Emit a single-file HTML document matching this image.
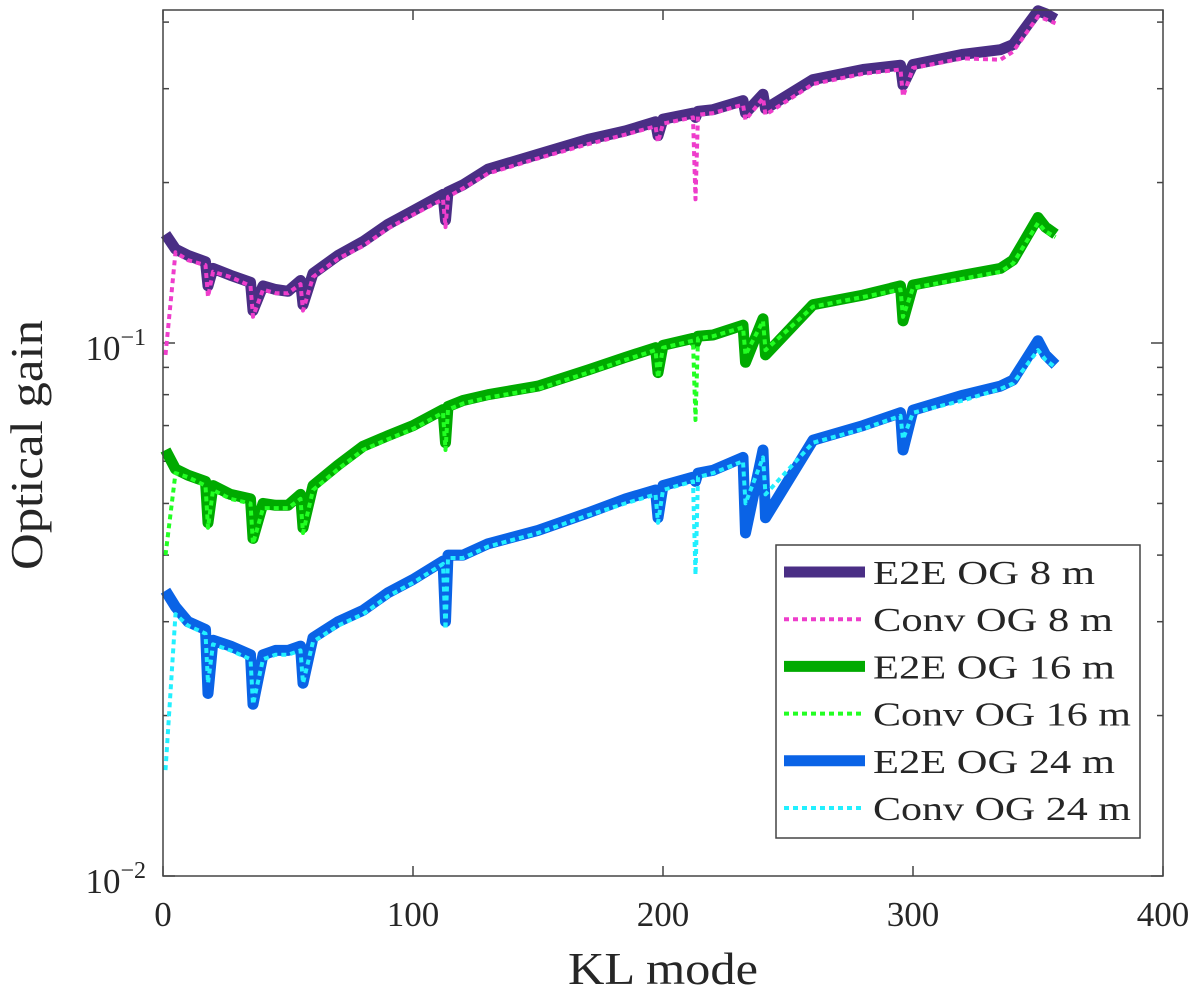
<!DOCTYPE html>
<html><head><meta charset="utf-8"><style>
html,body{margin:0;padding:0;background:#fff;}
svg text{font-family:"Liberation Serif",serif;fill:#262626;}
</style></head><body>
<svg id="chart" width="1200" height="990" xmlns="http://www.w3.org/2000/svg">
<g id="axes"></g>
<g id="series"></g>
<rect x="163" y="10" width="1000" height="866" fill="none" stroke="#444" stroke-width="1.5"/>
<text x="0" y="0" font-size="46" text-anchor="middle" textLength="250" lengthAdjust="spacingAndGlyphs" transform="translate(42,445) rotate(-90)">Optical gain</text>
<text x="663" y="984" font-size="46" text-anchor="middle" textLength="190" lengthAdjust="spacingAndGlyphs">KL mode</text>
<g id="legend"></g>
</svg>
<script>
const modes=[1,5,10,17,18,20,27,35,36,40,45,50,55,56,60,70,80,90,100,112,113,114,120,130,150,170,185,197,198,200,212,213,214,220,232,233,240,241,260,280,295,296,300,320,335,340,350,353,357];
const e2e8=[0.160,0.150,0.146,0.142,0.128,0.138,0.134,0.130,0.115,0.128,0.126,0.125,0.131,0.118,0.135,0.146,0.155,0.167,0.177,0.190,0.170,0.192,0.198,0.212,0.226,0.241,0.250,0.260,0.245,0.263,0.270,0.265,0.272,0.274,0.285,0.270,0.293,0.275,0.312,0.326,0.332,0.305,0.333,0.348,0.355,0.363,0.420,0.415,0.405];
const conv8=[0.095,0.148,0.143,0.140,0.122,0.136,0.133,0.128,0.112,0.126,0.124,0.124,0.129,0.115,0.133,0.144,0.152,0.164,0.174,0.186,0.165,0.188,0.195,0.208,0.222,0.236,0.246,0.255,0.238,0.258,0.265,0.186,0.268,0.270,0.280,0.262,0.288,0.268,0.306,0.320,0.326,0.290,0.328,0.342,0.340,0.352,0.410,0.405,0.398];
const e2e16=[0.063,0.058,0.0565,0.055,0.046,0.054,0.052,0.051,0.043,0.050,0.0496,0.0496,0.052,0.045,0.054,0.059,0.064,0.067,0.070,0.075,0.065,0.076,0.078,0.080,0.083,0.089,0.094,0.098,0.088,0.099,0.102,0.100,0.103,0.1035,0.108,0.092,0.111,0.095,0.118,0.123,0.128,0.110,0.1285,0.134,0.138,0.143,0.172,0.165,0.160];
const conv16=[0.040,0.057,0.056,0.054,0.045,0.053,0.051,0.050,0.042,0.049,0.049,0.049,0.051,0.044,0.053,0.058,0.063,0.066,0.069,0.074,0.063,0.075,0.077,0.079,0.082,0.088,0.093,0.097,0.086,0.098,0.101,0.0717,0.102,0.103,0.107,0.095,0.110,0.097,0.117,0.122,0.126,0.112,0.127,0.132,0.136,0.141,0.168,0.162,0.158];
const e2e24=[0.0343,0.032,0.030,0.029,0.022,0.0277,0.027,0.026,0.021,0.026,0.0265,0.0265,0.027,0.023,0.028,0.030,0.0315,0.034,0.036,0.039,0.030,0.040,0.040,0.042,0.0445,0.048,0.051,0.053,0.047,0.054,0.056,0.055,0.057,0.0577,0.061,0.044,0.063,0.047,0.0657,0.070,0.074,0.063,0.0748,0.0798,0.083,0.0852,0.101,0.095,0.091];
const conv24=[0.0158,0.031,0.0295,0.0285,0.023,0.0272,0.0265,0.0255,0.021,0.0255,0.026,0.026,0.0265,0.023,0.0275,0.0295,0.031,0.0335,0.0355,0.0385,0.029,0.0395,0.0395,0.0415,0.044,0.0475,0.050,0.052,0.046,0.053,0.055,0.0367,0.056,0.057,0.060,0.050,0.061,0.052,0.065,0.069,0.073,0.066,0.074,0.078,0.082,0.084,0.097,0.093,0.090];
const xTicks=[0,100,200,300,400];
const xTickLabels=["0","100","200","300","400"];
const NS="http://www.w3.org/2000/svg";
const X0=163,X1=1163,YB=876,YT=10,Y01=343,DEC=533;
function xs(v){return X0+(v/400)*(X1-X0);}
function ys(v){return Y01-(Math.log10(v)+1)*DEC;}
function mk(tag,attrs,parent){const e=document.createElementNS(NS,tag);for(const k in attrs)e.setAttribute(k,attrs[k]);parent.appendChild(e);return e;}
const axes=document.getElementById('axes');
xTicks.forEach((t,i)=>{
  const l1=mk('line',{x1:xs(t),x2:xs(t),y1:YB,y2:YB-10,stroke:'#444','stroke-width':1.5},axes);
  
  
  const l2=mk('line',{x1:xs(t),x2:xs(t),y1:YT,y2:YT+10,stroke:'#444','stroke-width':1.5},axes);
  
  
  const tx=mk('text',{x:xs(t),y:926,'font-size':35,'text-anchor':'middle'},axes);
  tx.textContent=xTickLabels[i];
  
  
});
const yMinor=[0.02,0.03,0.04,0.05,0.06,0.07,0.08,0.09,0.2,0.3,0.4];
yMinor.forEach(v=>{
  [[X0,X0+6],[X1,X1-6]].forEach(p=>{
    const l=mk('line',{x1:p[0],x2:p[1],y1:ys(v),y2:ys(v),stroke:'#444','stroke-width':1.5},axes);
    
    
  });
});
[[0.1,'1'],[0.01,'2']].forEach(p=>{
  [[X0,X0+12],[X1,X1-12]].forEach(q=>{
    const l=mk('line',{x1:q[0],x2:q[1],y1:ys(p[0]),y2:ys(p[0]),stroke:'#444','stroke-width':1.5},axes);
    
    
  });
  const t=mk('text',{x:146,y:ys(p[0])+17,'font-size':35,'text-anchor':'end'},axes);
  t.innerHTML='10<tspan dy="-15" font-size="24">−'+p[1]+'</tspan>';
  
  
});
const seriesG=document.getElementById('series');
const defs=[
 {d:e2e8,c:'#4a2e85',w:11,dash:null,name:'E2E OG 8 m',id:'line-e2e-8m',tl:222},
 {d:conv8,c:'#ee3dcb',w:4,dash:'5 4',name:'Conv OG 8 m',id:'line-conv-8m',tl:240},
 {d:e2e16,c:'#00aa00',w:11,dash:null,name:'E2E OG 16 m',id:'line-e2e-16m',tl:242},
 {d:conv16,c:'#22ff22',w:4,dash:'5 4',name:'Conv OG 16 m',id:'line-conv-16m',tl:258},
 {d:e2e24,c:'#0a63e6',w:11,dash:null,name:'E2E OG 24 m',id:'line-e2e-24m',tl:242},
 {d:conv24,c:'#22f0ff',w:4,dash:'5 4',name:'Conv OG 24 m',id:'line-conv-24m',tl:258}
];
defs.forEach(s=>{
  const pts=modes.map((m,i)=>xs(m).toFixed(1)+','+ys(s.d[i]).toFixed(1)).join(' ');
  const a={points:pts,fill:'none',stroke:s.c,'stroke-width':s.w,'stroke-linejoin':'round'};
  if(s.dash)a['stroke-dasharray']=s.dash;
  const p=mk('polyline',a,seriesG);
  
  
});
const lg=document.getElementById('legend');
const box=mk('rect',{x:776,y:545,width:364,height:293,fill:'#fff',stroke:'#444','stroke-width':1.5},lg);


defs.forEach((s,i)=>{
  const y=572+i*47.2;
  const a={x1:784,x2:865,y1:y,y2:y,stroke:s.c,'stroke-width':s.w};
  if(s.dash)a['stroke-dasharray']=s.dash;
  const l=mk('line',a,lg);
  
  
  const t=mk('text',{x:873,y:y+12,'font-size':34,fill:'#000',textLength:s.tl,lengthAdjust:'spacingAndGlyphs'},lg);
  t.textContent=s.name;
  
  
});
</script>
</body></html>
